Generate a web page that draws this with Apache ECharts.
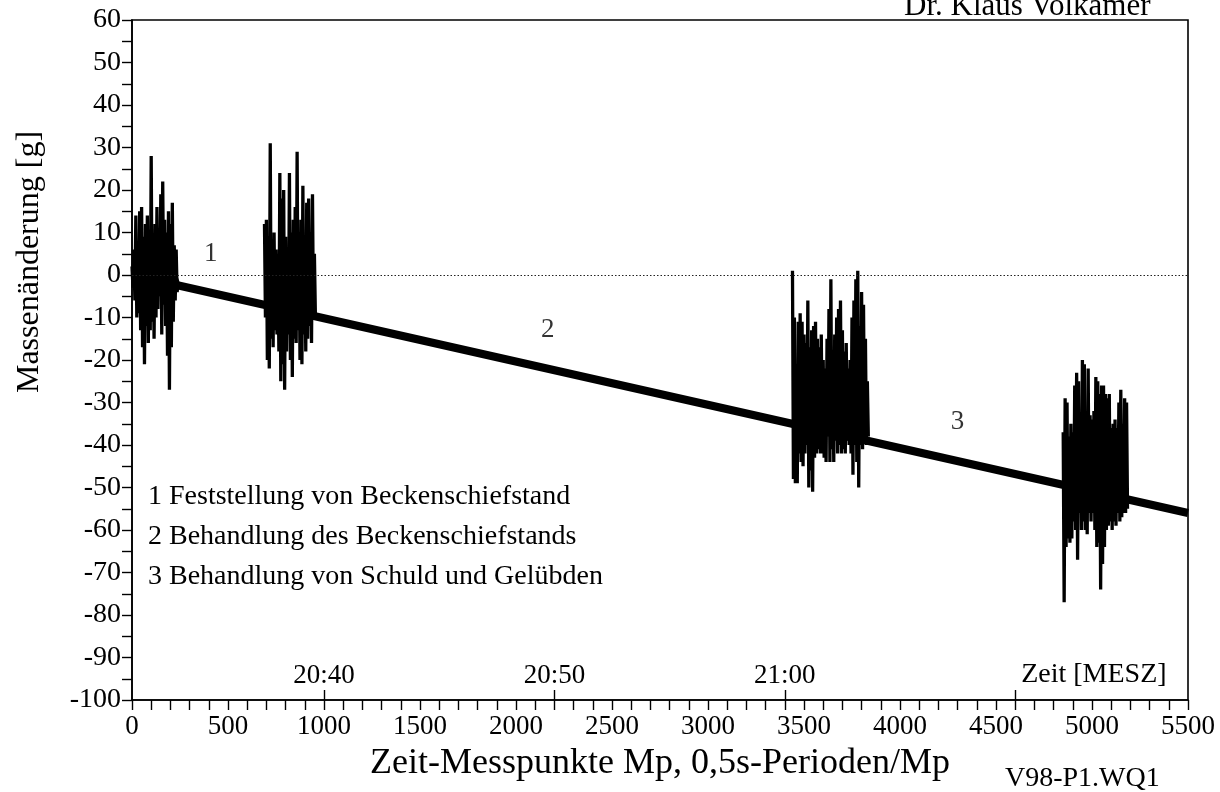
<!DOCTYPE html>
<html><head><meta charset="utf-8">
<script src="https://cdn.jsdelivr.net/npm/echarts@6/dist/echarts.min.js"></script>
<style>html,body{margin:0;padding:0;background:#fff}#c{width:1220px;height:792px}</style>
</head><body><div id="c"></div>
<script>
// ---- data ----
const timeTickValues = [1000, 2200, 3400, 4600];
const timeTickLabels = ['20:40', '20:50', '21:00', 'Zeit [MESZ]'];
const driftX = [0, 5500];
const driftY = [0, -56];
const zeroLevel = 0;
const sampleStep = 10;

const burst1Start = 0;
const burst1Hi = [2,6,14,8,15,16,9,12,14,10,28,6,12,16,11,19,22,13,10,15,12,17,7,6,-2];
const burst1Lo = [-3,-6,-10,-9,-13,-17,-21,-12,-16,-13,-11,-15,-10,-8,-5,-14,-7,-12,-19,-27,-17,-11,-6,-4,-3];

const burst2Start = 690;
const burst2Hi = [12,13,9,31,8,10,6,5,24,18,20,9,5,24,10,13,16,29,9,13,21,8,17,18,10,19,5];
const burst2Lo = [-10,-20,-22,-15,-17,-13,-14,-18,-25,-21,-27,-18,-14,-20,-24,-15,-16,-13,-20,-21,-14,-18,-15,-12,-16,-10,-9];

const burst3Start = 3440;
const burst3Hi = [1,-10,-21,-11,-9,-11,-14,-16,-6,-17,-13,-12,-11,-15,-17,-14,-20,-22,-15,-8,-1,-19,-14,-10,-8,-6,-13,-18,-16,-22,-20,-10,-6,-1,1,-12,-4,-7,-15,-25];
const burst3Lo = [-48,-49,-49,-42,-44,-45,-42,-40,-50,-46,-51,-43,-42,-41,-42,-42,-43,-44,-38,-44,-41,-44,-39,-42,-40,-42,-41,-42,-39,-40,-42,-47,-40,-44,-50,-40,-41,-39,-40,-38];

const burst4Start = 4850;
const burst4Hi = [-37,-29,-30,-38,-35,-37,-26,-23,-25,-33,-20,-21,-32,-22,-33,-34,-32,-24,-25,-28,-26,-26,-28,-29,-28,-36,-35,-34,-36,-30,-27,-35,-29,-30];
const burst4Lo = [-77,-64,-62,-63,-62,-58,-60,-67,-56,-60,-58,-60,-61,-56,-58,-56,-60,-64,-63,-74,-68,-64,-60,-59,-58,-60,-58,-59,-56,-58,-57,-56,-56,-55];

const phaseLabels = ['1', '2', '3'];
const phaseX = [410, 2165, 4300];
const phaseY = [5, -13, -34.5];

const legendLines = [
  '1 Feststellung von Beckenschiefstand',
  '2 Behandlung des Beckenschiefstands',
  '3 Behandlung von Schuld und Gelübden'
];
const yTitle = 'Massenänderung [g]';
const xTitle = 'Zeit-Messpunkte Mp, 0,5s-Perioden/Mp';
const authorText = 'Dr. Klaus Volkamer';
const fileText = 'V98-P1.WQ1';

// ---- build ----
const FONT = '"Liberation Serif", "Times New Roman", serif';
function zig(x0, hi, lo) {
  const out = [];
  hi.forEach((h, i) => {
    out.push([x0 + i * sampleStep, h]);
    out.push([x0 + i * sampleStep + sampleStep / 2, lo[i]]);
  });
  return out;
}
const bursts = [
  zig(burst1Start, burst1Hi, burst1Lo),
  zig(burst2Start, burst2Hi, burst2Lo),
  zig(burst3Start, burst3Hi, burst3Lo),
  zig(burst4Start, burst4Hi, burst4Lo)
];

const chart = echarts.init(document.getElementById('c'), null, {renderer: 'canvas'});
const axisLine = {show: true, onZero: false, lineStyle: {color: '#000', width: 1.6}};
const tickStyle = {color: '#000', width: 1.4};
const TICKFS = 27;

const option = {
  backgroundColor: '#fff',
  animation: false,
  grid: {left: 132, right: 32, top: 20, bottom: 92, show: true, borderColor: '#000', borderWidth: 1.6, backgroundColor: 'transparent'},
  xAxis: [
    {
      type: 'value', min: 0, max: 5500, interval: 500, position: 'bottom',
      axisLine: axisLine,
      axisTick: {show: true, inside: false, length: 10, lineStyle: tickStyle},
      minorTick: {show: true, splitNumber: 5, length: 10, lineStyle: tickStyle},
      splitLine: {show: false}, minorSplitLine: {show: false},
      axisLabel: {color: '#000', fontFamily: FONT, fontSize: TICKFS, margin: 13, formatter: v => String(v)},
      name: xTitle, nameLocation: 'middle', nameGap: 46,
      nameTextStyle: {color: '#000', fontFamily: FONT, fontSize: 36}
    },
    {
      type: 'value', min: 0, max: 5500, position: 'bottom',
      axisLine: {show: false, onZero: false},
      axisTick: {show: true, inside: true, length: 10, customValues: timeTickValues, lineStyle: tickStyle},
      axisLabel: {show: true, inside: true, margin: 11, color: '#000', fontFamily: FONT, fontSize: TICKFS,
        customValues: timeTickValues.slice(0, 3),
        formatter: v => timeTickLabels[timeTickValues.indexOf(v)]},
      splitLine: {show: false}
    },
    {
      type: 'value', min: 0, max: 5500, position: 'bottom',
      axisLine: {show: false, onZero: false},
      axisTick: {show: false},
      axisLabel: {show: true, inside: true, margin: 11, color: '#000', fontFamily: FONT, fontSize: 28,
        align: 'left', padding: [0, 0, 0, 6],
        customValues: timeTickValues.slice(3),
        formatter: v => timeTickLabels[timeTickValues.indexOf(v)]},
      splitLine: {show: false}
    }
  ],
  yAxis: {
    type: 'value', min: -100, max: 60, interval: 10,
    axisLine: axisLine,
    axisTick: {show: true, inside: false, length: 10, lineStyle: tickStyle},
    minorTick: {show: true, splitNumber: 2, length: 10, lineStyle: tickStyle},
    splitLine: {show: false}, minorSplitLine: {show: false},
    axisLabel: {color: '#000', fontFamily: FONT, fontSize: 28, margin: 11}
  },
  series: [
    {
      type: 'line', name: 'drift', xAxisIndex: 0,
      data: driftX.map((x, i) => [x, driftY[i]]),
      showSymbol: false, symbol: 'none',
      lineStyle: {color: '#000', width: 8, cap: 'butt'},
      z: 2,
      markLine: {
        silent: true, symbol: 'none', label: {show: false},
        lineStyle: {color: '#222', width: 1, type: [1.5, 2]},
        data: [{yAxis: zeroLevel}]
      }
    },
    ...bursts.map(d => ({
      type: 'line', xAxisIndex: 0, data: d, showSymbol: false, symbol: 'none',
      lineStyle: {color: '#000', width: 3.3, join: 'miter'}, z: 3
    })),
    {
      type: 'scatter', xAxisIndex: 0,
      data: phaseX.map((x, i) => ({value: [x, phaseY[i]], name: phaseLabels[i]})),
      symbolSize: 1, itemStyle: {color: 'rgba(0,0,0,0)'},
      label: {show: true, position: 'inside', formatter: p => p.name, color: '#000', fontFamily: FONT, fontSize: TICKFS},
      z: 4
    }
  ],
  graphic: [
    {type: 'text', x: 30, y: 262, rotation: Math.PI / 2,
     style: {text: yTitle, font: '32px ' + FONT, align: 'center', verticalAlign: 'middle', fill: '#000'}},
    {type: 'text', x: 148, y: 477,
     style: {text: legendLines.join('\n'), font: '28px ' + FONT, lineHeight: 40, align: 'left', verticalAlign: 'top', fill: '#000'}},
    {type: 'text', x: 904, y: 22,
     style: {text: authorText, font: '31px ' + FONT, align: 'left', verticalAlign: 'bottom', fill: '#000'}},
    {type: 'text', x: 1005, y: 779,
     style: {text: fileText, font: '28px ' + FONT, align: 'left', verticalAlign: 'middle', fill: '#000'}}
  ]
};
chart.setOption(option);
</script></body></html>
